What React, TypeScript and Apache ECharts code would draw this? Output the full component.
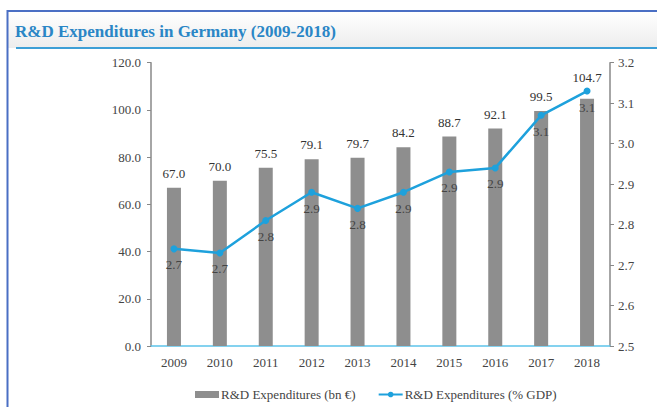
import React, { useEffect, useRef } from "react";
import * as echarts from "echarts";

const years = ["2009", "2010", "2011", "2012", "2013", "2014", "2015", "2016", "2017", "2018"];
const spendBn = [67.0, 70.0, 75.5, 79.1, 79.7, 84.2, 88.7, 92.1, 99.5, 104.7];
const pctGdp = [2.74, 2.73, 2.81, 2.88, 2.84, 2.88, 2.93, 2.94, 3.07, 3.13];
const titleText = "R&D Expenditures in Germany (2009-2018)";
const barName = "R&D Expenditures (bn €)";
const lineName = "R&D Expenditures (% GDP)";

const SERIF = "'Liberation Serif', 'DejaVu Serif', serif";

export default function App() {
  const ref = useRef<HTMLDivElement>(null);
  useEffect(() => {
    if (!ref.current) return;
    const chart = echarts.init(ref.current, undefined, { renderer: "svg" });
    const axisText = { color: "#444", fontFamily: SERIF, fontSize: 13 };
    const lastIdx = spendBn.length - 1;
    const barData = spendBn.map((v, i) =>
      i === lastIdx ? { value: v, label: { distance: 15 } } : v
    );
    chart.setOption({
      animation: false,
      backgroundColor: "#fff",
      textStyle: { fontFamily: SERIF },
      graphic: [
        {
          type: "rect",
          silent: true,
          z: -10,
          shape: { x: 8, y: 12, width: 660, height: 36 },
          style: {
            fill: new echarts.graphic.LinearGradient(0, 0, 0, 1, [
              { offset: 0, color: "#ffffff" },
              { offset: 1, color: "#ededed" },
            ]),
          },
        },
        {
          type: "line",
          silent: true,
          shape: { x1: 7.5, y1: 11, x2: 700, y2: 11 },
          style: { stroke: "#4a6fc4", lineWidth: 2 },
        },
        {
          type: "line",
          silent: true,
          shape: { x1: 7.5, y1: 10, x2: 7.5, y2: 420 },
          style: { stroke: "#4a6fc4", lineWidth: 2 },
        },
        {
          type: "line",
          silent: true,
          shape: { x1: 16, y1: 48, x2: 700, y2: 48 },
          style: { stroke: "#3d9fd6", lineWidth: 2 },
        },
        {
          type: "text",
          x: 15,
          y: 31,
          style: {
            text: titleText,
            fill: "#2a86c6",
            font: "bold 17px " + SERIF,
            textVerticalAlign: "middle",
          },
        },
      ],
      grid: { left: 151, right: 47, top: 62.7, bottom: 61, containLabel: false },
      legend: {
        left: 190,
        top: 383,
        itemGap: 22,
        itemWidth: 24,
        itemHeight: 7,
        textStyle: { color: "#444", fontFamily: SERIF, fontSize: 13, padding: [0, 0, 0, -3] },
        data: [
          { name: barName, icon: "rect" },
          { name: lineName },
        ],
      },
      xAxis: {
        type: "category",
        data: years,
        axisLine: { show: true, lineStyle: { color: "#5cc3ea", width: 1.5 } },
        axisTick: { show: false },
        axisLabel: { ...axisText, margin: 10 },
      },
      yAxis: [
        {
          type: "value",
          min: 0,
          max: 120,
          interval: 20,
          axisLine: { show: true, lineStyle: { color: "#888", width: 1.5 } },
          axisTick: { show: true, length: 4, lineStyle: { color: "#888" } },
          splitLine: { show: false },
          axisLabel: { ...axisText, margin: 10, formatter: (v: number) => v.toFixed(1) },
        },
        {
          type: "value",
          min: 2.5,
          max: 3.2,
          interval: 0.1,
          position: "right",
          axisLine: { show: true, lineStyle: { color: "#888", width: 1.5 } },
          axisTick: { show: true, length: 4, lineStyle: { color: "#888" } },
          splitLine: { show: false },
          axisLabel: { ...axisText, margin: 8, formatter: (v: number) => v.toFixed(1) },
        },
      ],
      series: [
        {
          name: barName,
          type: "bar",
          data: barData,
          barWidth: 14,
          itemStyle: { color: "#8e8e8e" },
          label: {
            show: true,
            position: "top",
            distance: 8,
            color: "#333",
            fontFamily: SERIF,
            fontSize: 13,
            formatter: (p: any) => Number(p.value).toFixed(1),
          },
        },
        {
          name: lineName,
          type: "line",
          yAxisIndex: 1,
          data: pctGdp,
          symbol: "circle",
          symbolSize: 7,
          lineStyle: { color: "#1ea1dc", width: 2.5 },
          itemStyle: { color: "#1ea1dc" },
          label: {
            show: true,
            position: "bottom",
            distance: 6,
            color: "#444",
            fontFamily: SERIF,
            fontSize: 13,
            formatter: (p: any) => Number(p.value).toFixed(1),
          },
        },
      ],
    });
    return () => chart.dispose();
  }, []);
  return (
    <div
      ref={ref}
      style={{ position: "fixed", left: 0, top: 0, width: 657, height: 407 }}
    />
  );
}
